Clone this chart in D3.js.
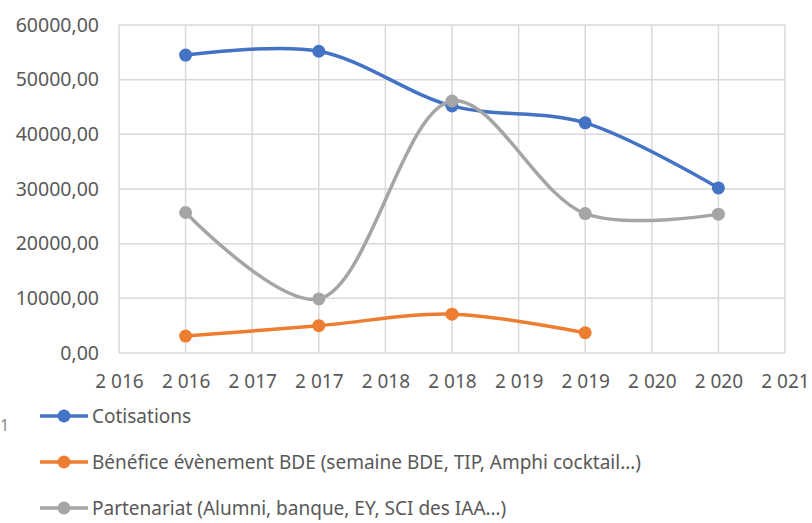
<!DOCTYPE html>
<html>
<head>
<meta charset="utf-8">
<script src="https://cdn.jsdelivr.net/npm/d3@7"></script>
<style>
  body { margin: 0; background: #fff; }
  text { font-family: "Noto Sans", "Open Sans", sans-serif; fill: #595959; }
</style>
</head>
<body>
<div id="plot"></div>
<script>
var years = [2016, 2017, 2018, 2019, 2020];
var cotisations = [54500, 55200, 45200, 42100, 30200];
var benefice = [3100, 5000, 7100, 3700];
var partenariat = [25700, 9900, 46100, 25500, 25400];
var seriesNames = ["Cotisations",
                   "Bénéfice évènement BDE (semaine BDE, TIP, Amphi cocktail…)",
                   "Partenariat (Alumni, banque, EY, SCI des IAA…)"];
var xTicks = [2015.5, 2016, 2016.5, 2017, 2017.5, 2018, 2018.5, 2019, 2019.5, 2020, 2020.5];
var yTicks = [0, 10000, 20000, 30000, 40000, 50000, 60000];

var margin = {top: 25, right: 27, bottom: 170, left: 119}
  , width = 812 - margin.left - margin.right
  , height = 523 - margin.top - margin.bottom;

var x = d3.scaleLinear().domain([2015.5, 2020.5]).range([0, width]);
var y = d3.scaleLinear().domain([0, 60000]).range([height, 0]);

var color = ["#4472C4", "#ED7D31", "#A5A5A5"];
var allSeries = [cotisations, benefice, partenariat];

var chart = d3.select('#plot')
    .append('svg')
    .attr('width', 812)
    .attr('height', 523);

var main = chart.append('g')
    .attr('transform', 'translate(' + margin.left + ',' + margin.top + ')');

// grid
main.append('g').selectAll('line.h')
    .data(yTicks)
  .enter().append('line')
    .attr('x1', 0).attr('x2', width)
    .attr('y1', function(d) { return y(d); })
    .attr('y2', function(d) { return y(d); })
    .style('stroke', '#d9d9d9').style('stroke-width', 1.5);

main.append('g').selectAll('line.v')
    .data(xTicks)
  .enter().append('line')
    .attr('y1', 0).attr('y2', height)
    .attr('x1', function(d) { return x(d); })
    .attr('x2', function(d) { return x(d); })
    .style('stroke', '#d9d9d9').style('stroke-width', 1.5);

// axes (labels only)
var yFmt = function(d) { return d3.format(".2f")(d).replace(".", ","); };
var yAxis = d3.axisLeft(y).tickValues(yTicks).tickFormat(yFmt).tickSize(0).tickPadding(20);
var ga = main.append('g').call(yAxis);
ga.select('.domain').remove();
ga.selectAll('text').style('font-size', '19.5px').style('fill', '#595959');

var frLocale = d3.formatLocale({decimal: ",", thousands: " ", grouping: [3], currency: ["", "€"]});
var xAxis = d3.axisBottom(x).tickValues(xTicks).tickFormat(frLocale.format(",.0f")).tickSize(0).tickPadding(22);
var gx = main.append('g').attr('transform', 'translate(0,' + height + ')').call(xAxis);
gx.select('.domain').remove();
gx.selectAll('text').style('font-size', '19px').style('fill', '#595959');

// smooth lines
var line = d3.line()
    .x(function(d) { return x(d[0]); })
    .y(function(d) { return y(d[1]); })
    .curve(d3.curveCatmullRom.alpha(0.5));

allSeries.forEach(function(vals, s) {
    var pts = vals.map(function(v, i) { return [years[i], v]; });
    main.append('path')
        .datum(pts)
        .attr('d', line)
        .style('fill', 'none')
        .style('stroke', color[s])
        .style('stroke-width', 3.5)
        .style('stroke-linecap', 'round');
});

allSeries.forEach(function(vals, s) {
    main.append('g').selectAll('circle')
        .data(vals)
      .enter().append('circle')
        .attr('cx', function(d, i) { return x(years[i]); })
        .attr('cy', function(d) { return y(d); })
        .attr('r', 6.5)
        .style('fill', color[s]);
});

// legend
var legend = chart.selectAll('.legend')
    .data(seriesNames)
  .enter().append('g')
    .attr('class', 'legend')
    .attr('transform', function(d, i) { return 'translate(40,' + (416 + i * 46) + ')'; });

legend.append('line')
    .attr('x1', 0).attr('x2', 48)
    .style('stroke', function(d, i) { return color[i]; })
    .style('stroke-width', 3.5);

legend.append('circle')
    .attr('cx', 24).attr('r', 6.5)
    .style('fill', function(d, i) { return color[i]; });

legend.append('text')
    .attr('x', 52)
    .attr('dy', '.35em')
    .style('font-size', '19px')
    .text(function(d) { return d; });

// stray label at left edge of the original crop
chart.append('text')
    .attr('x', 0).attr('y', 431)
    .style('font-size', '16px')
    .style('fill', '#8a8a8a')
    .text('1');
</script>
</body>
</html>
